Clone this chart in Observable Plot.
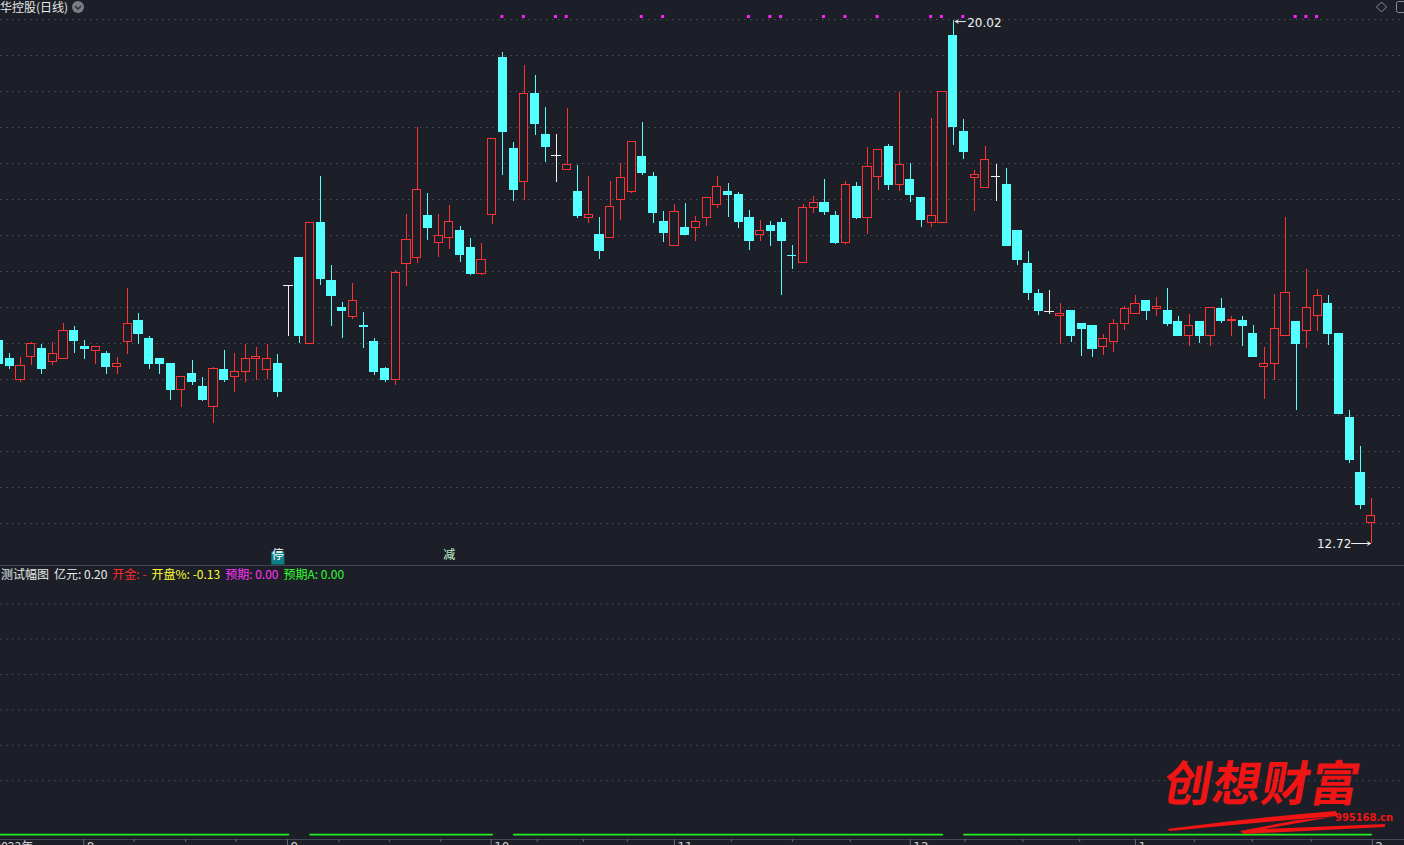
<!DOCTYPE html>
<html><head><meta charset="utf-8">
<script src="https://cdn.jsdelivr.net/npm/d3@7"></script>
<script src="https://cdn.jsdelivr.net/npm/@observablehq/plot@0.6"></script>
<style>
html,body{margin:0;padding:0;background:#1c1f27;overflow:hidden}
#wrap{position:relative;width:1404px;height:845px;background:#1c1f27;font-family:"Noto Sans CJK SC","Noto Sans",sans-serif;overflow:hidden}
#main{position:absolute;left:0;top:0;width:1404px;height:565px}
#sub{position:absolute;left:0;top:565px;width:1404px;height:280px;border-top:1px solid #41464f;box-sizing:border-box}
#title{position:absolute;left:0;top:0px;color:#e8e8e8;font-size:12px;line-height:14px;white-space:nowrap;display:flex;align-items:center}
#legend{position:absolute;left:1px;top:565px;font-size:12px;white-space:nowrap;color:#e8e8e8}
#legend span{margin-right:5px}
.ovl{position:absolute;pointer-events:none}
svg{display:block}
</style></head><body>
<div id="wrap">
  <div id="main"></div>
  <div id="sub"></div>
  <div id="title"><span>华控股(日线)</span>
    <svg width="16" height="14" style="margin-left:3px"><circle cx="7" cy="7" r="6" fill="#7a7d84"/><path d="M4,6 L7,9 L10,6" stroke="#2a2d33" stroke-width="1.4" fill="none"/></svg>
  </div>
  <svg class="ovl" style="left:1370px;top:0" width="34" height="16">
    <path d="M11.5,2 L16.5,7 L11.5,12 L6.5,7 Z" stroke="#8a8d94" fill="none"/>
    <rect x="26.5" y="1.5" width="12" height="11" rx="2" stroke="#8a8d94" fill="none"/>
  </svg>
  <div id="legend"></div>
  <div class="ovl" id="wm" style="left:1165px;top:750px;color:#f01414;font-size:48px;font-weight:700;letter-spacing:1px;transform:skewX(-10deg);font-family:'Noto Sans CJK SC';line-height:60px">创想财富</div>
  <svg class="ovl" style="left:0;top:0" width="1404" height="845">
    <path d="M1167,829 Q1250,818 1336,811 L1338,816 Q1250,823 1170,831 Z" fill="#f01414"/>
    <path d="M1240,831 L1298,820 L1332,817 L1265,829 L1385,824 L1385,827 L1244,834 Z" fill="#f01414"/>
    <text x="1335" y="821" fill="#f01414" font-size="11" font-weight="700" font-family="Liberation Sans Narrow, DejaVu Sans Condensed, sans-serif">995168.cn</text>
  </svg>
</div>
<script>
// ---- candle data (daily OHLC) ----
const opens  = [15.54,15.30,15.00,15.32,15.43,15.25,15.29,15.68,15.46,15.41,15.36,15.19,15.53,15.82,15.57,15.30,15.22,14.86,15.08,14.91,
14.62,15.14,15.04,15.11,15.30,15.14,15.22,16.32,16.71,15.51,17.19,16.39,16.01,15.88,15.75,15.53,15.15,15.00,16.62,16.70,
17.29,16.92,16.98,17.08,16.84,16.48,17.31,19.50,18.23,17.77,19.00,18.42,18.14,17.94,17.62,17.26,17.02,16.98,17.51,17.62,
18.12,17.83,17.21,16.87,17.12,17.13,17.27,17.45,17.62,17.59,17.26,17.02,17.15,17.20,16.74,16.63,17.40,17.47,17.29,16.91,
17.69,17.26,17.84,18.25,17.72,17.79,17.54,17.19,17.19,19.81,18.47,17.82,17.68,17.84,17.72,17.08,16.62,16.20,15.96,15.90,
15.97,15.79,15.76,15.47,15.53,15.78,15.93,16.11,16.00,15.97,15.81,15.61,15.81,15.61,16.00,15.82,15.83,15.65,15.18,15.23,
15.62,15.81,15.68,15.90,16.07,15.65,14.47,13.71,13.01];
const closes = [15.22,15.20,15.20,15.50,15.15,15.37,15.69,15.55,15.44,15.47,15.19,15.22,15.78,15.65,15.22,15.23,14.86,15.05,14.97,14.72,
15.15,15.00,15.11,15.30,15.32,15.30,14.84,16.32,15.61,17.19,16.41,16.17,15.96,16.10,15.74,15.11,15.00,16.50,16.95,17.65,
17.12,17.01,17.21,16.75,16.48,16.68,18.36,18.46,17.65,19.00,18.57,18.26,18.14,18.00,17.29,17.30,16.81,17.42,17.82,18.33,
17.89,17.33,17.05,17.35,17.02,17.21,17.54,17.69,17.58,17.21,16.94,17.08,17.08,16.94,16.73,17.41,17.47,17.35,16.92,17.72,
17.27,17.97,18.21,17.72,18.00,17.59,17.23,17.29,19.02,18.53,18.19,17.87,18.07,17.84,16.87,16.68,16.22,15.97,15.96,15.92,
15.61,15.72,15.43,15.58,15.78,16.00,16.07,15.96,16.02,15.79,15.61,15.75,15.61,16.01,15.83,15.84,15.75,15.32,15.22,15.71,
16.21,15.51,16.01,16.18,15.65,14.53,13.88,13.26,13.11];
const highs  = [15.58,15.37,15.32,15.53,15.50,15.53,15.79,15.75,15.55,15.47,15.40,15.32,16.28,15.93,15.61,15.30,15.22,15.05,15.28,15.04,
15.18,15.41,15.37,15.50,15.46,15.50,15.36,16.32,16.71,17.19,17.84,16.60,16.08,16.35,15.94,15.58,15.18,16.53,17.31,18.53,
17.61,17.31,17.44,17.15,16.98,16.91,18.36,19.57,18.32,19.39,19.25,18.81,18.43,18.79,18.00,17.84,17.27,17.77,18.02,18.33,
18.60,17.90,17.35,17.45,17.47,17.29,17.54,17.84,17.75,17.62,17.37,17.23,17.21,17.26,16.88,17.45,17.56,17.80,17.35,17.77,
17.76,18.25,18.22,18.29,19.02,18.02,17.54,18.65,19.02,20.02,18.64,17.93,18.26,18.01,17.95,17.09,16.80,16.27,16.25,16.07,
15.97,15.79,15.76,15.64,15.85,16.03,16.18,16.11,16.15,16.28,15.89,15.92,15.81,16.01,16.14,15.89,15.89,15.76,15.46,16.20,
17.27,15.81,16.55,16.27,16.18,15.65,14.58,14.07,13.35];
const lows   = [15.19,15.15,14.97,15.20,15.08,15.20,15.29,15.37,15.29,15.22,15.08,15.08,15.36,15.50,15.15,15.08,14.72,14.62,14.93,14.70,
14.40,14.97,14.83,14.97,15.00,15.01,14.76,15.61,15.51,15.51,16.32,15.75,15.58,15.85,15.44,15.07,14.97,14.93,16.31,16.63,
16.95,16.71,16.82,16.64,16.46,16.46,17.17,17.86,17.49,17.51,18.42,18.04,17.76,17.94,17.26,17.19,16.68,16.98,17.23,17.61,
17.86,17.19,16.92,16.87,17.02,16.94,17.15,17.40,17.27,17.12,16.81,16.94,16.87,16.18,16.55,16.63,17.33,17.30,16.89,16.89,
17.24,17.03,17.65,17.65,17.63,17.48,17.13,17.13,17.19,18.28,18.08,17.35,17.68,17.49,16.87,16.60,16.11,15.90,15.92,15.50,
15.53,15.33,15.32,15.34,15.39,15.69,15.93,15.83,15.89,15.75,15.61,15.47,15.51,15.47,15.79,15.61,15.47,15.32,14.73,15.00,
15.62,14.58,15.44,15.68,15.48,14.52,13.84,13.19,12.72];

// signal markers (candle indexes) shown as magenta dots at the top
const signalDays = [47,49,52,53,60,62,70,72,73,77,79,82,87,88,90,121,122,123];
// event labels under the candles
const eventLabels = [{i:26, text:"停", box:true}, {i:42, text:"减", box:false}];

// sub-panel series 预期A (gaps = null)
const expectA = [0,0,0,0,0,0,0,0,0,0,0,0,0,0,0,0,0,0,0,0,0,0,0,0,0,0,0,0,null,0,
0,0,0,0,0,0,0,0,0,0,0,0,0,0,0,0,0,null,0,0,0,0,0,0,0,0,0,0,0,0,
0,0,0,0,0,0,0,0,0,0,0,0,0,0,0,0,0,0,0,0,0,0,0,0,0,0,0,0,0,null,
0,0,0,0,0,0,0,0,0,0,0,0,0,0,0,0,0,0,0,0,0,0,0,0,0,0,0,0,0,0,
0,0,0,0,0,0,0,0,0];

// x axis: month ticks & weekly ticks (candle index positions)
const monthTicks = [7.9, 26.9, 45.9, 63.0, 85.0, 106.0, 128.1];
const monthLabels = ["8","9","10","11","12","1","2"];
const weekTicks = [12.6,17.4,22.1,31.7,36.4,41.2,50.2,54.5,58.6,68.3,74.0,79.4,90.1,95.5,100.8,111.5,116.9,122.4];

// legend of the sub panel
const legendItems = [
  {label:"测试幅图", color:"#e8e8e8"},
  {label:"亿元: 0.20", color:"#e8e8e8"},
  {label:"开金: -", color:"#ff2a2a"},
  {label:"开盘%: -0.13", color:"#ffff33"},
  {label:"预期: 0.00", color:"#ff33ff"},
  {label:"预期A: 0.00", color:"#33ff33"}
];

const BG = "#1c1f27", RED = "#ff3232", CYAN = "#54ffff", WHITE = "#f0f0f0", MAG = "#ff22ff", GREEN = "#22ee22";
const GRID = "#4a4e58";

const candles = opens.map((o, i) => ({i, o, c: closes[i], h: highs[i], l: lows[i]}));
const col = d => d.c > d.o ? RED : d.c < d.o ? CYAN : WHITE;
const bodies = candles.filter(d => d.c !== d.o);
const dojis = candles.filter(d => d.c === d.o);
const hi = candles.reduce((a, b) => b.h > a.h ? b : a);
const lo = candles.reduce((a, b) => b.l < a.l ? b : a);

const xDomain = [0.13, 131.1];
const yMain = [12.413, 20.30];
const mainGrid = d3.range(15).map(k => yMain[1] - (19 + 36 * k) / 565 * (yMain[1] - yMain[0]));

const main = Plot.plot({
  width: 1404, height: 565, margin: 0,
  x: {type: "linear", domain: xDomain, axis: null},
  y: {domain: yMain, axis: null},
  color: {type: "identity"},
  style: {background: "transparent", overflow: "hidden"},
  marks: [
    Plot.ruleY(mainGrid, {stroke: GRID, strokeDasharray: "1.5,4.5"}),
    Plot.ruleX(candles, {x: "i", y1: "l", y2: "h", stroke: col, shapeRendering: "crispEdges"}),
    Plot.rect(bodies, {x1: d => d.i - 0.38, x2: d => d.i + 0.38, y1: "o", y2: "c",
      fill: d => d.c > d.o ? BG : CYAN, stroke: col, shapeRendering: "crispEdges"}),
    Plot.ruleY(dojis, {y: "c", x1: d => d.i - 0.45, x2: d => d.i + 0.45, stroke: WHITE, shapeRendering: "crispEdges"}),
    Plot.dot(signalDays, {x: d => d - 0.1, frameAnchor: "top", dy: 16, symbol: "square", r: 1.7, fill: MAG, stroke: null}),
    Plot.dot(eventLabels.filter(d => d.box), {x: "i", frameAnchor: "bottom", dy: -7.5, symbol: "square", r: 7.4, fill: "#0d7f86"}),
    Plot.text(eventLabels, {x: "i", text: "text", frameAnchor: "bottom", dy: -7, fill: d => d.box ? "#ffffff" : "#c8f5c8", fontSize: 12, fontFamily: "Noto Sans CJK SC"}),
    Plot.arrow([hi], {x1: d => d.i + 1.15, x2: d => d.i + 0.2, y1: "h", y2: "h", dy: 1, stroke: WHITE, headLength: 5, bend: 0, strokeWidth: 1}),
    Plot.text([hi], {x: "i", y: "h", text: d => d.h.toFixed(2), dx: 14, dy: 3, textAnchor: "start", fill: WHITE, fontSize: 12, fontFamily: "DejaVu Sans"}),
    Plot.arrow([lo], {x1: d => d.i - 1.85, x2: d => d.i - 0.08, y1: "l", y2: "l", stroke: WHITE, headLength: 5, strokeWidth: 1}),
    Plot.text([lo], {x: "i", y: "l", text: d => d.l.toFixed(2), dx: -20, dy: 1, textAnchor: "end", fill: WHITE, fontSize: 12, fontFamily: "DejaVu Sans"})
  ]
});
document.getElementById("main").appendChild(main);

const ySub = [-0.05, 2.73];
const subGrid = [2.35, 1.99, 1.63, 1.27, 0.91, 0.55];
const sub = Plot.plot({
  width: 1404, height: 279, marginTop: 0, marginBottom: 6, marginLeft: 0, marginRight: 0,
  x: {type: "linear", domain: xDomain, axis: null},
  y: {domain: ySub, axis: null},
  style: {background: "transparent", overflow: "hidden"},
  marks: [
    Plot.ruleY(subGrid, {stroke: GRID, strokeDasharray: "1.5,4.5"}),
    Plot.ruleY([ySub[0]], {stroke: "#444954"}),
    Plot.line(expectA.map((v, i) => ({i, v})), {x: "i", y: "v", stroke: GREEN, strokeWidth: 1.6}),
    Plot.ruleX(monthTicks, {x: d => d, y1: ySub[0], y2: ySub[0] - 0.06, stroke: "#6a6e78"}),
    Plot.ruleX(weekTicks, {x: d => d, y1: ySub[0], y2: ySub[0] - 0.03, stroke: "#6a6e78"}),
    Plot.text(monthTicks, {x: d => d, text: (d, i) => monthLabels[i], frameAnchor: "bottom", dx: 3, dy: 3, lineAnchor: "top", textAnchor: "start", fill: "#d0d0d0", fontSize: 12, fontFamily: "DejaVu Sans"}),
    Plot.text(["2023年"], {frameAnchor: "bottom-left", dx: -6, dy: 3, lineAnchor: "top", textAnchor: "start", fill: "#d0d0d0", fontSize: 12, fontFamily: "Noto Sans CJK SC"})
  ]
});
document.getElementById("sub").appendChild(sub);

const leg = document.getElementById("legend");
legendItems.forEach(d => { const s = document.createElement("span"); s.textContent = d.label; s.style.color = d.color; leg.appendChild(s); });
</script>
</body></html>
